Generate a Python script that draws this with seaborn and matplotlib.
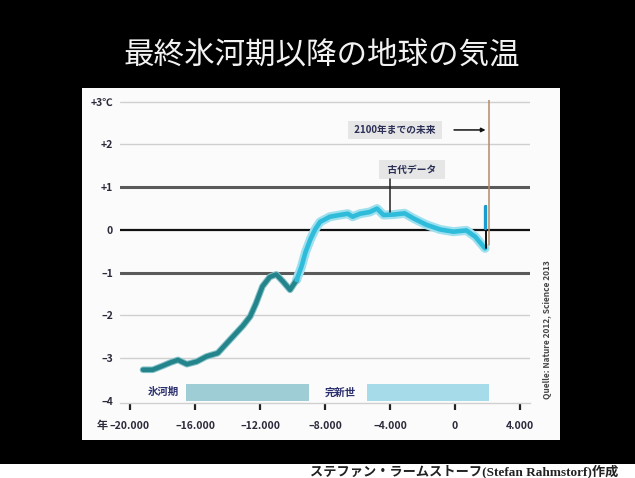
import matplotlib
matplotlib.use("Agg")
import matplotlib.pyplot as plt
from matplotlib.patches import Rectangle
import seaborn as sns
import pandas as pd

sns.set_theme(style="white")
plt.rcParams['font.family'] = ['Noto Sans CJK JP', 'DejaVu Sans']

# ---- data ----
years_ice = [-19200, -18600, -18000, -17500, -17050, -16500, -15900, -15300, -14600,
             -13850, -13050, -12600, -12250, -11850, -11400, -11000, -10600, -10150, -9750]
temps_ice = [-3.27, -3.27, -3.18, -3.10, -3.04, -3.14, -3.08, -2.96, -2.88,
             -2.57, -2.24, -2.02, -1.72, -1.32, -1.10, -1.04, -1.20, -1.40, -1.17]
years_holo = [-9750, -9450, -9200, -8900, -8600, -8300, -7700, -7100, -6600, -6300, -5850,
              -5250, -4800, -4400, -3800, -3100, -2550, -1750, -900, -100, 700, 1250, 1850]
temps_holo = [-1.17, -0.86, -0.52, -0.22, 0.02, 0.19, 0.31, 0.35, 0.38, 0.31, 0.38,
              0.42, 0.50, 0.35, 0.36, 0.39, 0.27, 0.12, 0.01, -0.04, -0.01, -0.16, -0.43]
future_year = 1900
future_temps = [-0.43, 0.55]
marker_year = 2090

x_ticks = [-20000, -16000, -12000, -8000, -4000, 0, 4000]
x_ticklabels = ['–20.000', '–16.000', '–12.000', '–8.000', '–4.000', '0', '4.000']
y_ticks = [3, 2, 1, 0, -1, -2, -3, -4]
y_ticklabels = ['+3℃', '+2', '+1', '0', '–1', '–2', '–3', '–4']

periods = ['氷河期', '完新世']
period_start = [-16550, -5415]
period_end = [-8985, 2090]
period_label_x = [-17950, -7050]

title = '最終氷河期以降の地球の気温'
credit = 'ステファン・ラームストーフ(Stefan Rahmstorf)作成'
source = 'Quelle: Nature 2012, Science 2013'

df = pd.DataFrame({
    'year': years_ice + years_holo,
    'temp': temps_ice + temps_holo,
    'phase': ['ice'] * len(years_ice) + ['holo'] * len(years_holo),
})

# ---- figure ----
W, H = 635, 478
fig = plt.figure(figsize=(W / 100, H / 100), dpi=100, facecolor='black')
fig.patches.append(Rectangle((82 / W, 1 - 440 / H), (560 - 82) / W, (440 - 88) / H,
                             transform=fig.transFigure, facecolor='#fbfbfb',
                             edgecolor='none', zorder=-10))
fig.patches.append(Rectangle((0, 0), 1, 14 / H, transform=fig.transFigure,
                             facecolor='white', edgecolor='none', zorder=-10))

ax = fig.add_axes([120 / W, 1 - 403.1 / H, 410 / W, 303.5 / H])
ax.set_zorder(5)
ax.set_facecolor('none')
ax.set_xlim(-20615, 4615)
ax.set_ylim(-4.05, 3.05)

# gridlines
for v in [3, 2, -2, -3]:
    ax.axhline(v, color='#cfcfcf', lw=1.0, zorder=1)
for v in [1, -1]:
    ax.axhline(v, color='#5a5a5a', lw=2.2, zorder=1)
ax.axhline(0, color='#111111', lw=1.6, zorder=1)

# period bands
band_colors = ['#9fcdd5', '#a6dcea']
for s, e, c in zip(period_start, period_end, band_colors):
    ax.add_patch(Rectangle((s, -4.0), e - s, 0.39, facecolor=c, edgecolor='none', zorder=2))
for lx, lab in zip(period_label_x, periods):
    ax.text(lx, -3.8, lab, ha='center', va='center', fontsize=7.5, fontweight='bold',
            color='#2b2f6e', zorder=3)

# glow
ax.plot(years_holo, temps_holo, color='#9ee0ee', lw=6.5, solid_capstyle='round', zorder=3)
ax.plot(years_ice, temps_ice, color='#86c2c8', lw=4.8, solid_capstyle='round', zorder=3)
sns.lineplot(data=df, x='year', y='temp', hue='phase', sort=False, estimator=None,
             palette={'ice': '#23848c', 'holo': '#2fbcdb'}, lw=3.3, legend=False,
             ax=ax, zorder=4)

# brown marker line and future spike
ax.plot([marker_year, marker_year], [3.05, -0.35], color='#b48a66', lw=1.1, zorder=3)
ax.plot([future_year, future_year], future_temps, color='#111111', lw=1.4, zorder=5)
ax.plot([future_year - 40, future_year - 40], [0.05, future_temps[1]], color='#1a9cd0',
        lw=2.4, zorder=5)

# annotations
bbox = dict(boxstyle='square,pad=0.45', facecolor='#e6e6e6', edgecolor='none')
ax.text(-3690, 2.34, ' 2100年までの未来 ', ha='center', va='center', fontsize=7,
        fontweight='bold', color='#2b2f55', bbox=bbox, zorder=6)
ax.annotate('', xy=(1880, 2.34), xytext=(-60, 2.34),
            arrowprops=dict(arrowstyle='-|>', color='#111111', lw=1.1,
                            mutation_scale=6, shrinkA=0, shrinkB=0), zorder=6)
ax.text(-2650, 1.41, '  古代データ  ', ha='center', va='center', fontsize=7,
        fontweight='bold', color='#2b2f55', bbox=bbox, zorder=6)
ax.plot([-4000, -4000], [1.2, 0.43], color='#222222', lw=1.1, zorder=6)

# axes styling
for sp in ['top', 'right', 'left']:
    ax.spines[sp].set_visible(False)
ax.spines['bottom'].set_color('#d0d0d0')
ax.spines['bottom'].set_linewidth(1.0)
ax.set_xticks(x_ticks)
ax.set_xticklabels(x_ticklabels, fontsize=7.5, fontweight='bold', color='#2b2b3b')
ax.set_yticks(y_ticks)
ax.set_yticklabels(y_ticklabels, fontsize=7.5, fontweight='bold', color='#2b2b3b')
ax.tick_params(axis='x', direction='out', length=5, width=1.6, color='#222222', pad=8,
               bottom=True)
ax.tick_params(axis='y', length=0, pad=5)
ax.set_xlabel('')
ax.set_ylabel('')

fig.text(102 / W, 1 - 425 / H, '年', ha='center', va='center', fontsize=8,
         fontweight='bold', color='#2b2b3b')
fig.text(548 / W, 1 - 330 / H, source, rotation=90, ha='center', va='center',
         fontsize=6, fontweight='bold', color='#444444')
fig.text(322 / W, 1 - 55 / H, title, ha='center', va='center', fontsize=22,
         color='#f2f2f2')
fig.text(464 / W, 1 - 471 / H, credit, ha='center', va='center', fontsize=9.5,
         fontweight='bold', color='#222222', family=['Liberation Serif', 'Noto Sans CJK JP'])

fig.savefig('out.png', dpi=100, facecolor='black')
